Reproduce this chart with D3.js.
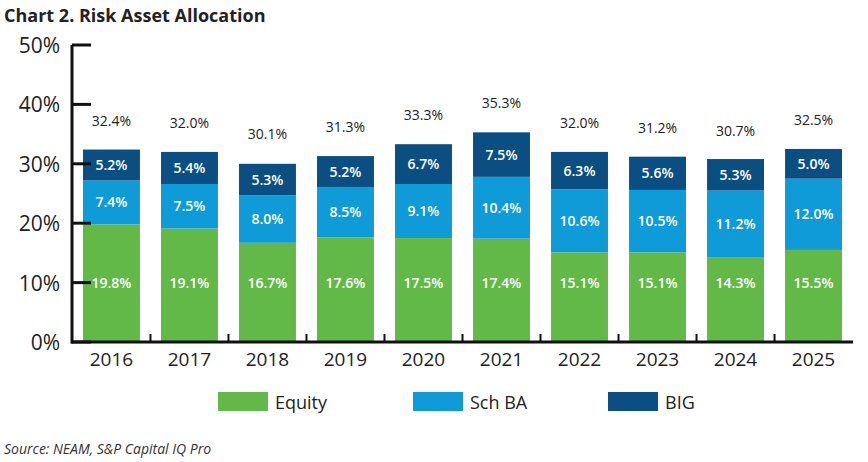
<!DOCTYPE html><html><head><meta charset="utf-8"><script src="https://cdn.jsdelivr.net/npm/d3@7"></script>
<style>body{margin:0;background:#fff}text{font-family:"Open Sans",sans-serif}</style></head><body><svg id="c" width="868" height="462"></svg><script>
const years=["2016","2017","2018","2019","2020","2021","2022","2023","2024","2025"];
const equity=[19.8,19.1,16.7,17.6,17.5,17.4,15.1,15.1,14.3,15.5];
const schBA=[7.4,7.5,8.0,8.5,9.1,10.4,10.6,10.5,11.2,12.0];
const big=[5.2,5.4,5.3,5.2,6.7,7.5,6.3,5.6,5.3,5.0];
const totals=[32.4,32.0,30.1,31.3,33.3,35.3,32.0,31.2,30.7,32.5];
const yTicks=[0,10,20,30,40,50];
const seriesNames=["Equity","Sch BA","BIG"];
const colors=["#63b948","#0f9ad8","#0b4f82"];
const svg=d3.select("#c");
const x=d3.scaleBand().domain(years).range([72,853]).paddingInner(0.27).paddingOuter(0.141);
const y=d3.scaleLinear().domain([0,50]).range([342,45]);
svg.append("text").attr("x",4).attr("y",22).attr("font-size",18).attr("font-weight",700).attr("fill","#222").text("Chart 2. Risk Asset Allocation");
const rows=years.map((yr,i)=>({yr,Equity:equity[i],"Sch BA":schBA[i],BIG:big[i]}));
const stack=d3.stack().keys(seriesNames)(rows);
stack.forEach((s,k)=>{
  const g=svg.append("g");
  g.selectAll("rect").data(s).join("rect").attr("x",d=>x(d.data.yr)).attr("width",x.bandwidth())
   .attr("y",d=>y(d[1])).attr("height",d=>y(d[0])-y(d[1])).attr("fill",colors[k]);
  g.selectAll("text").data(s).join("text").attr("x",d=>x(d.data.yr)+x.bandwidth()/2)
   .attr("y",d=>k==0?y(10)+5:(y(d[0])+y(d[1]))/2+5).attr("text-anchor","middle").attr("fill","#fff")
   .attr("font-size",14).attr("font-weight",600).text(d=>(d[1]-d[0]).toFixed(1)+"%");
});
svg.append("g").selectAll("text").data(totals).join("text").attr("x",(d,i)=>x(years[i])+x.bandwidth()/2)
 .attr("y",(d,i)=>y(d)-24).attr("text-anchor","middle").attr("font-size",14).attr("fill","#222").text(d=>d.toFixed(1)+"%");
// axes
svg.append("line").attr("x1",72).attr("x2",72).attr("y1",y(50)).attr("y2",y(0)+1.5).attr("stroke","#111").attr("stroke-width",3);
svg.append("line").attr("x1",71).attr("x2",853).attr("y1",y(0)).attr("y2",y(0)).attr("stroke","#111").attr("stroke-width",3);
svg.append("g").selectAll("line").data(yTicks).join("line").attr("x1",72).attr("x2",91).attr("y1",d=>y(d)).attr("y2",d=>y(d)).attr("stroke","#111").attr("stroke-width",3);
svg.append("g").selectAll("line").data(years.slice(1)).join("line").attr("x1",d=>x(d)-x.step()*0.135).attr("x2",d=>x(d)-x.step()*0.135).attr("y1",y(0)).attr("y2",y(0)-8).attr("stroke","#111").attr("stroke-width",2);
svg.append("g").selectAll("text").data(yTicks).join("text").attr("x",60).attr("y",d=>y(d)+8).attr("text-anchor","end").attr("font-size",21).attr("fill","#222").text(d=>d+"%");
svg.append("g").selectAll("text").data(years).join("text").attr("x",d=>x(d)+x.bandwidth()/2).attr("y",366).attr("text-anchor","middle").attr("font-size",19).attr("fill","#222").text(d=>d);
// legend
const lx=[218,413,608];
seriesNames.forEach((n,i)=>{
  svg.append("rect").attr("x",lx[i]).attr("y",392).attr("width",50).attr("height",19).attr("fill",colors[i]);
  svg.append("text").attr("x",lx[i]+57).attr("y",409).attr("font-size",18).attr("fill","#222").text(n);
});
svg.append("text").attr("x",4).attr("y",454).attr("font-size",14).attr("font-style","italic").attr("fill","#333").text("Source: NEAM, S&P Capital IQ Pro");
</script></body></html>
